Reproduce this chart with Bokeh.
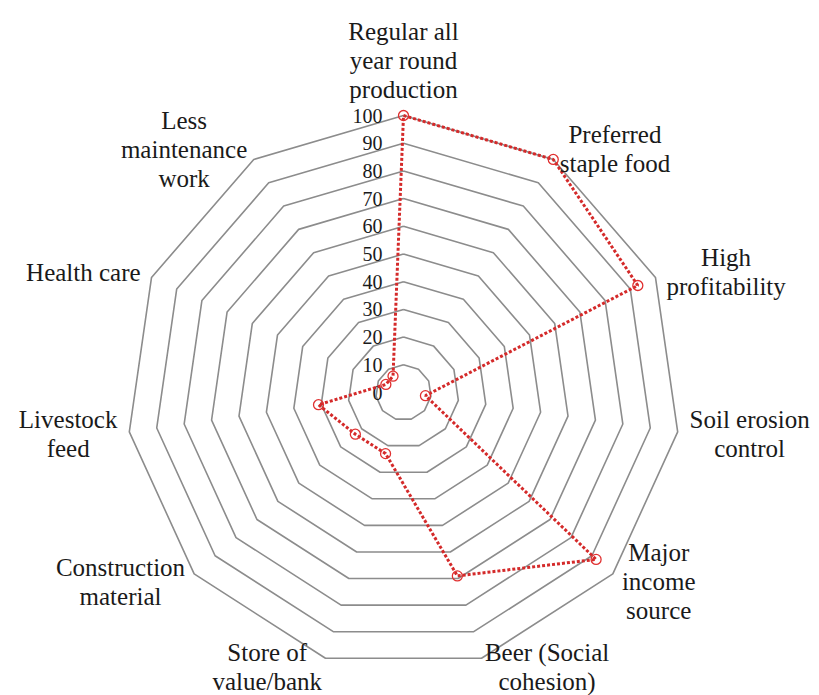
import math
from bokeh.plotting import figure
from bokeh.models import Range1d, ColumnDataSource
from bokeh.core.properties import value
from bokeh.embed import file_html
from bokeh.resources import INLINE

# ---- data ----
categories = [
    "Regular all\nyear round\nproduction",
    "Preferred\nstaple food",
    "High\nprofitability",
    "Soil erosion\ncontrol",
    "Major\nincome\nsource",
    "Beer (Social\ncohesion)",
    "Store of\nvalue/bank",
    "Construction\nmaterial",
    "Livestock\nfeed",
    "Health care",
    "Less\nmaintenance\nwork",
]
values = [100, 100, 93, 8, 92, 69, 23, 23, 31, 7, 7]
ring_levels = [10, 20, 30, 40, 50, 60, 70, 80, 90, 100]
tick_labels = ["0", "10", "20", "30", "40", "50", "60", "70", "80", "90", "100"]
tick_values = [0, 10, 20, 30, 40, 50, 60, 70, 80, 90, 100]

# ---- layout ----
W, H = 819, 695
CX, CY = 403.0, 392.0      # centre in canvas px
PX = 2.77                  # px per unit
FONT = "Liberation Serif"
LABEL_PX = 25
LINE_PX = 29
TICK_PX = 20

x0 = -CX / PX
x1 = (W - CX) / PX
y1 = CY / PX
y0 = -(H - CY) / PX

p = figure(width=W, height=H, output_backend="svg", toolbar_location=None,
           x_range=Range1d(x0, x1), y_range=Range1d(y0, y1),
           x_axis_type=None, y_axis_type=None, min_border=0)
p.grid.visible = False
p.outline_line_color = None
p.background_fill_color = "white"
p.border_fill_color = "white"

n = len(categories)
angles = [2 * math.pi * i / n for i in range(n)]

def pol(r, a):
    return r * math.sin(a), r * math.cos(a)

# rings
xs, ys = [], []
for lv in ring_levels:
    pts = [pol(lv, a) for a in angles] + [pol(lv, angles[0])]
    xs.append([q[0] for q in pts])
    ys.append([q[1] for q in pts])
p.multi_line(xs, ys, line_color="#8c8c8c", line_width=1.6)

# tick labels
tsrc = ColumnDataSource(dict(x=[-21 / PX] * len(tick_values), y=tick_values,
                             t=tick_labels))
p.text("x", "y", text="t", source=tsrc, text_align="right",
       text_baseline="middle", text_font=value(FONT),
       text_font_size=f"{TICK_PX}px", text_color="#1a1a1a")

# data series
dx = [pol(v, a)[0] for v, a in zip(values, angles)]
dy = [pol(v, a)[1] for v, a in zip(values, angles)]
p.line(dx + [dx[0]], dy + [dy[0]], line_color="#d42a2a", line_width=3,
       line_dash="3 2")
p.scatter(dx, dy, marker="circle", size=10, fill_color=None,
          line_color="#e03030", line_width=1.3)

# category labels
TW = {' ': 250, '(': 333, ')': 333, '/': 278, 'a': 444, 'b': 500, 'c': 444,
      'd': 500, 'e': 444, 'f': 333, 'g': 500, 'h': 500, 'i': 278, 'j': 278,
      'k': 500, 'l': 278, 'm': 778, 'n': 500, 'o': 500, 'p': 500, 'q': 500,
      'r': 333, 's': 389, 't': 278, 'u': 500, 'v': 500, 'w': 722, 'x': 500,
      'y': 500, 'z': 444, 'B': 667, 'C': 667, 'H': 722, 'L': 611, 'M': 889,
      'P': 556, 'R': 667, 'S': 556}

def width_px(s):
    return sum(TW.get(ch, 500) for ch in s) / 1000 * LABEL_PX

min_center = y0 + (LABEL_PX / 2 + 2) / PX   # keep text inside canvas

lx, ly, lt = [], [], []
for cat, a in zip(categories, angles):
    lines = cat.split("\n")
    bw = max(width_px(s) for s in lines) / PX
    ax, ay = pol(100 + 12 / PX, a)
    s = math.sin(a)
    if abs(s) < 1e-6:
        cx = ax
        cy_top = ay + len(lines) * LINE_PX / PX  # bottom-anchored block
        ys_ = [cy_top - (k + 0.5) * LINE_PX / PX for k in range(len(lines))]
    else:
        cx = ax + bw / 2 if s > 0 else ax - bw / 2
        ys_ = [ay - (k - (len(lines) - 1) / 2) * LINE_PX / PX
               for k in range(len(lines))]
    shift = max(0.0, min_center - ys_[-1])
    ys_ = [yy + shift for yy in ys_]
    for s_, yy in zip(lines, ys_):
        lx.append(cx)
        ly.append(yy)
        lt.append(s_)

lsrc = ColumnDataSource(dict(x=lx, y=ly, t=lt))
p.text("x", "y", text="t", source=lsrc, text_align="center",
       text_baseline="middle", text_font=value(FONT),
       text_font_size=f"{LABEL_PX}px", text_color="#1a1a1a")

open("out.html", "w").write(file_html(p, INLINE))
